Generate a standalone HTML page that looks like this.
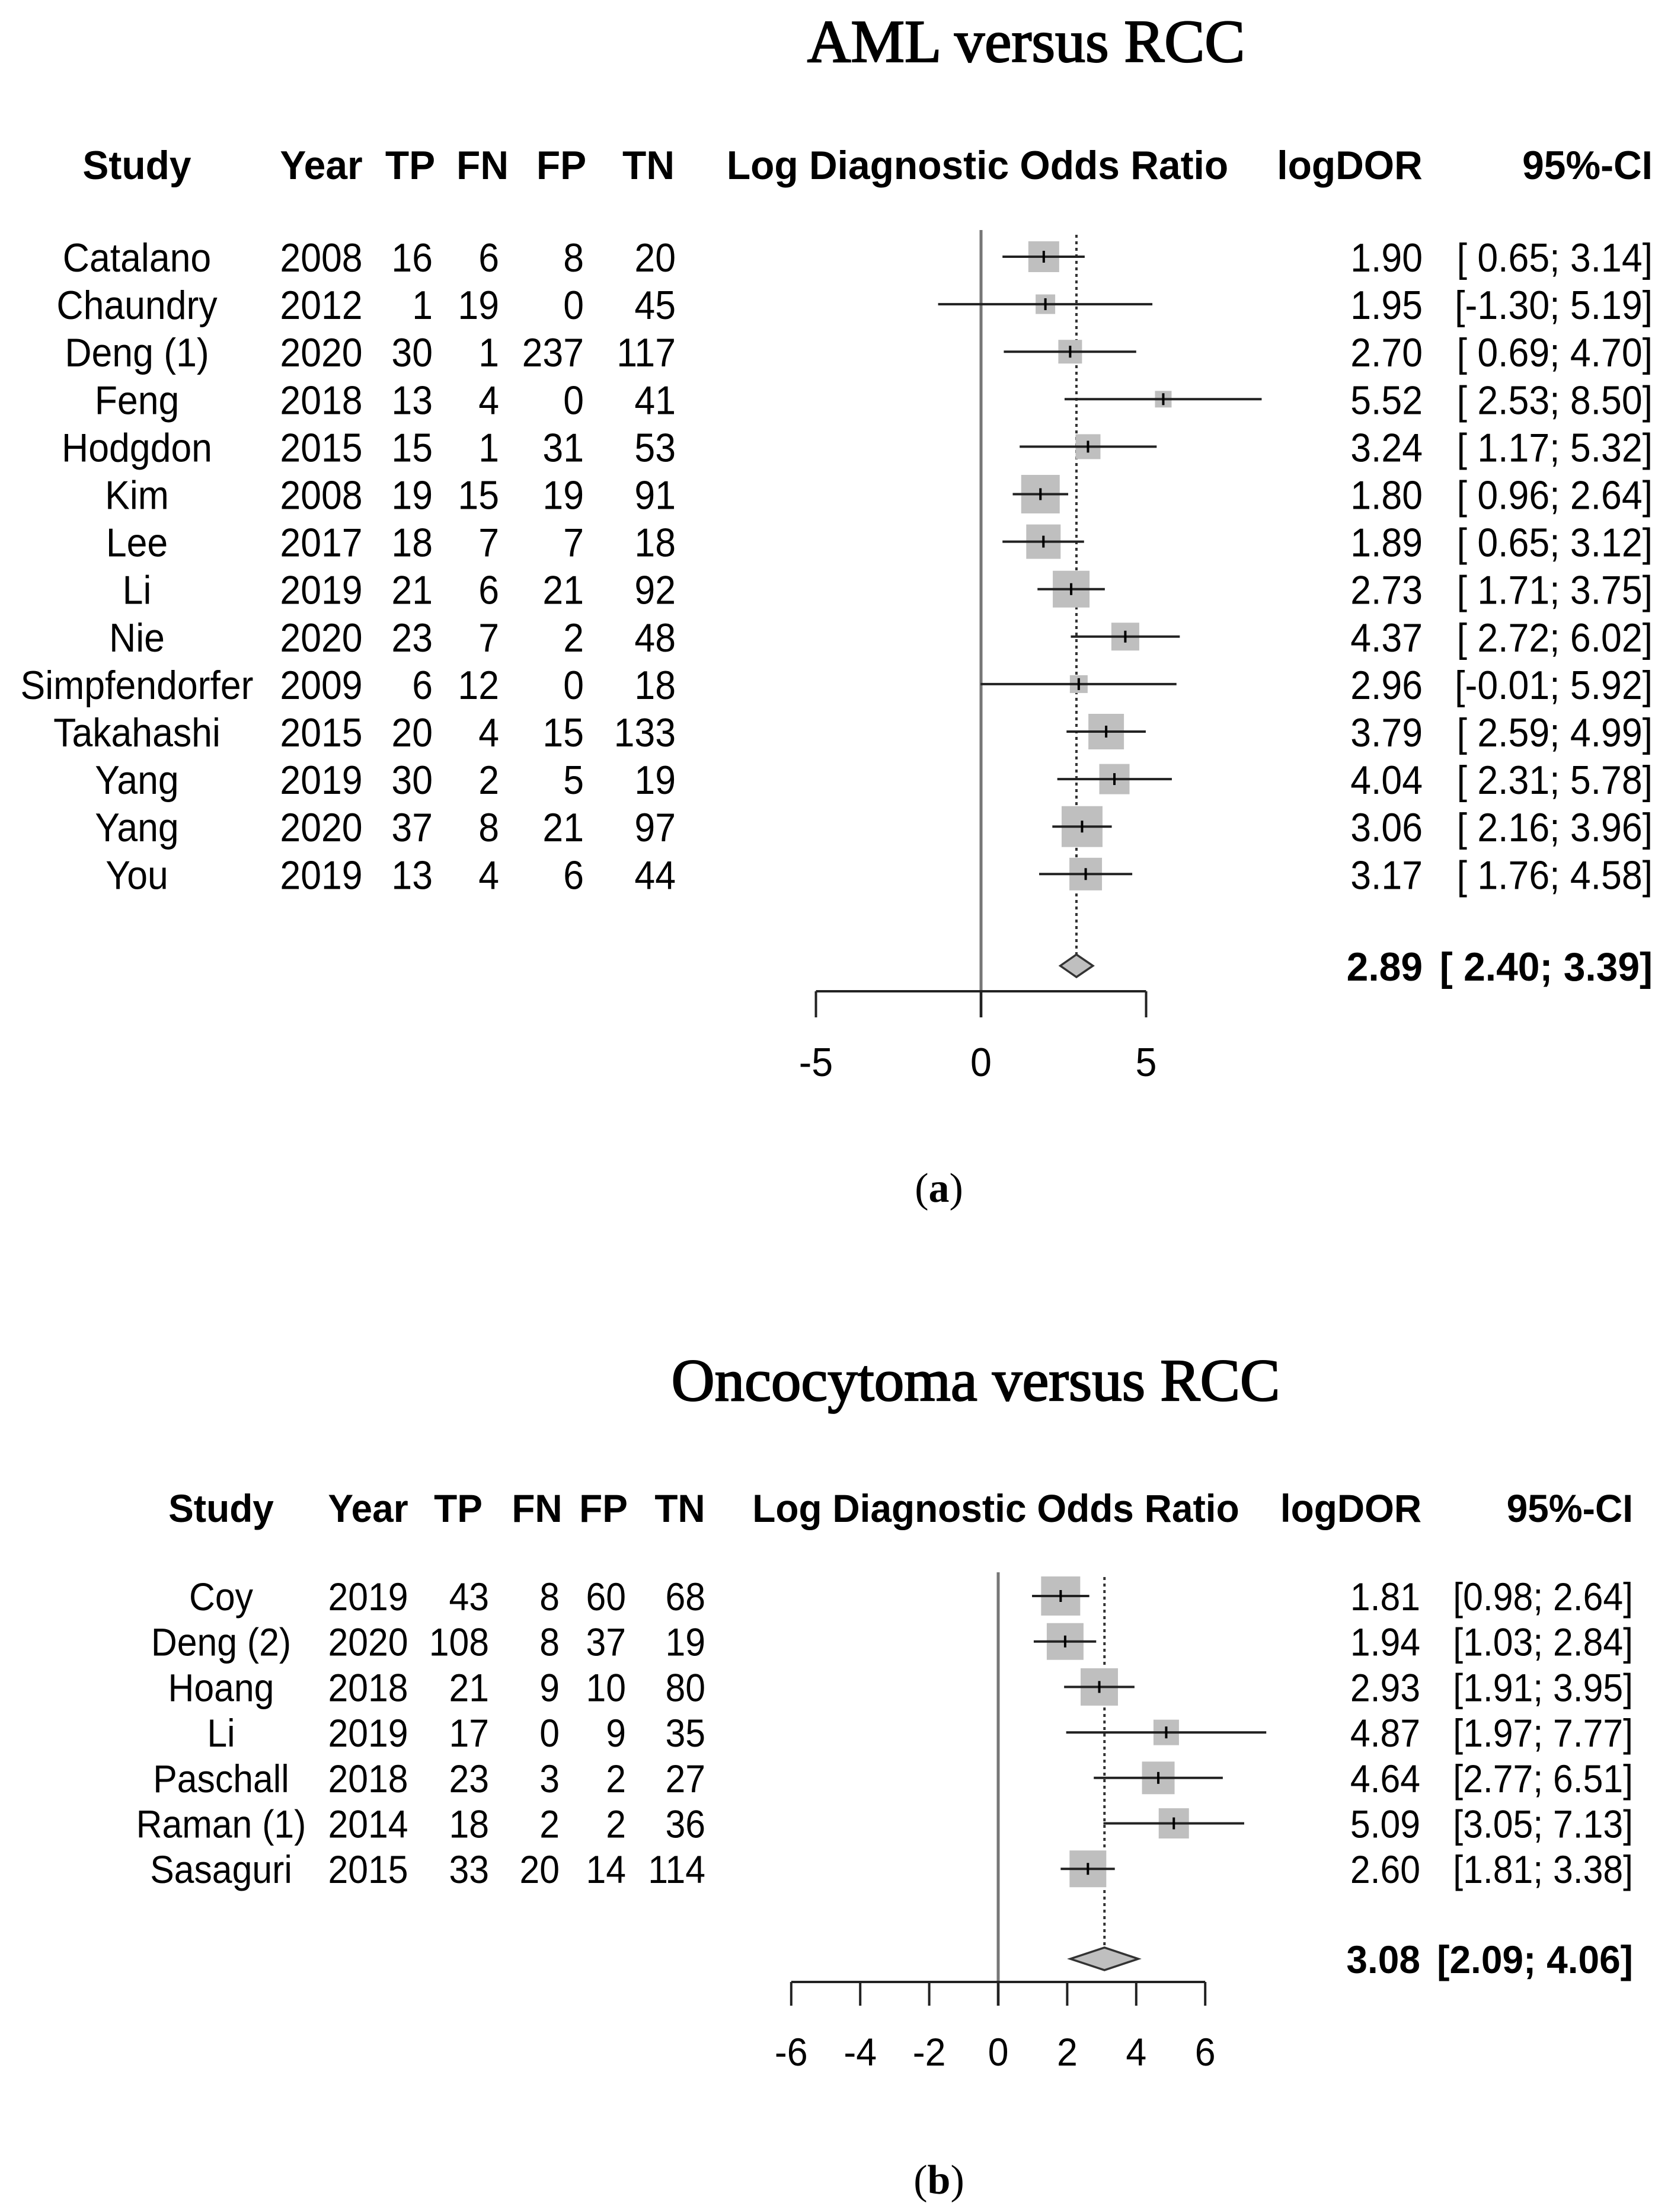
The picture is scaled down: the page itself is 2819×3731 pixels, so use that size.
<!DOCTYPE html>
<html><head><meta charset="utf-8"><style>
html,body{margin:0;padding:0;background:#fff}
svg{display:block}
</style></head><body>
<svg id="chart" xmlns="http://www.w3.org/2000/svg" width="2819" height="3731" viewBox="0 0 2819 3731">
<rect x="0" y="0" width="2819" height="3731" fill="#fff"/>
</svg>
<script>
// ---- Panel A data ----
const studiesA = ["Catalano","Chaundry","Deng (1)","Feng","Hodgdon","Kim","Lee","Li","Nie","Simpfendorfer","Takahashi","Yang","Yang","You"];
const yearsA = [2008,2012,2020,2018,2015,2008,2017,2019,2020,2009,2015,2019,2020,2019];
const tpA = [16,1,30,13,15,19,18,21,23,6,20,30,37,13];
const fnA = [6,19,1,4,1,15,7,6,7,12,4,2,8,4];
const fpA = [8,0,237,0,31,19,7,21,2,0,15,5,21,6];
const tnA = [20,45,117,41,53,91,18,92,48,18,133,19,97,44];
const ldorA = [1.90,1.95,2.70,5.52,3.24,1.80,1.89,2.73,4.37,2.96,3.79,4.04,3.06,3.17];
const lowA = [0.65,-1.30,0.69,2.53,1.17,0.96,0.65,1.71,2.72,-0.01,2.59,2.31,2.16,1.76];
const highA = [3.14,5.19,4.70,8.50,5.32,2.64,3.12,3.75,6.02,5.92,4.99,5.78,3.96,4.58];
const weightA = [5.2,3.3,4.0,2.8,4.2,6.5,5.8,6.2,4.7,3.0,6.0,5.1,6.9,5.5];
const pooledA = [2.89,2.40,3.39];
const ticksA = [-5,0,5];
// ---- Panel B data ----
const studiesB = ["Coy","Deng (2)","Hoang","Li","Paschall","Raman (1)","Sasaguri"];
const yearsB = [2019,2020,2018,2019,2018,2014,2015];
const tpB = [43,108,21,17,23,18,33];
const fnB = [8,8,9,0,3,2,20];
const fpB = [60,37,10,9,2,2,14];
const tnB = [68,19,80,35,27,36,114];
const ldorB = [1.81,1.94,2.93,4.87,4.64,5.09,2.60];
const lowB = [0.98,1.03,1.91,1.97,2.77,3.05,1.81];
const highB = [2.64,2.84,3.95,7.77,6.51,7.13,3.38];
const weightB = [6.6,6.2,6.3,4.3,5.5,5.1,6.2];
const pooledB = [3.08,2.09,4.06];
const ticksB = [-6,-4,-2,0,2,4,6];

const NS="http://www.w3.org/2000/svg";
const svg=document.getElementById('chart');
function el(tag,attrs){const e=document.createElementNS(NS,tag);for(const k in attrs)e.setAttribute(k,attrs[k]);svg.appendChild(e);return e;}
function txt(x,y,s,anchor,size,bold,name,family,sx){
  const e=el('text',{x:0,y:0,transform:`translate(${x},${y}) scale(${sx||0.92},1)`,'text-anchor':anchor,'font-size':size,'font-family':family||'"Liberation Sans", Arial, sans-serif','font-weight':bold?'bold':'normal',fill:'#000'});
  e.textContent=s;
  
  
  return e;
}
function f2(v){return v.toFixed(2);}
function ci(l,h,pad){let a=f2(l),b=f2(h);if(pad){if(l>=0)a=' '+a;if(h>=0)b=' '+b;}return '['+a+'; '+b+']';}

function panel(c){
  const X=v=>c.x0+v*c.unit;
  const fs=c.fs;
  const t=txt(c.titleX,c.titleY,c.title,'middle',c.titleSize,false,c.id+'-title','"Liberation Serif", serif',1);
  t.setAttribute('stroke','#000');t.setAttribute('stroke-width','2.2');
  const hy=c.headY, hs=0.97;
  txt(c.col.study,hy,'Study','middle',fs,true,c.id+'-header-study',null,hs);
  txt(c.col.year,hy,'Year','middle',fs,true,c.id+'-header-year',null,hs);
  txt(c.col.tpH,hy,'TP','middle',fs,true,c.id+'-header-tp',null,hs);
  txt(c.col.fnH,hy,'FN','middle',fs,true,c.id+'-header-fn',null,hs);
  txt(c.col.fpH,hy,'FP','middle',fs,true,c.id+'-header-fp',null,hs);
  txt(c.col.tnH,hy,'TN','middle',fs,true,c.id+'-header-tn',null,hs);
  txt(c.col.ldorH,hy,'Log Diagnostic Odds Ratio','middle',fs,true,c.id+'-header-log-dor',null,0.97);
  txt(c.col.logH,hy,'logDOR','middle',fs,true,c.id+'-header-logdor',null,hs);
  txt(c.col.ci,hy,'95%-CI','end',fs,true,c.id+'-header-ci',null,hs);
  const z=el('line',{x1:X(0),x2:X(0),y1:c.zeroTop,y2:c.axisY+c.tickLen,stroke:'#777','stroke-width':5});
  
  
  const d=el('line',{x1:X(c.pooled[0]),x2:X(c.pooled[0]),y1:c.zeroTop+8,y2:c.diamondY-19,stroke:'#333','stroke-width':4,'stroke-dasharray':'5 6'});
  
  
  c.studies.forEach((s,i)=>{
    const yc=c.row0+i*c.rowH, yb=yc+c.baseOff;
    txt(c.col.study,yb,s,'middle',fs,false,c.id+'-study-'+i);
    txt(c.col.year,yb,String(c.years[i]),'middle',fs,false,c.id+'-year-'+i);
    txt(c.col.tp,yb,String(c.tp[i]),'end',fs,false,c.id+'-tp-'+i);
    txt(c.col.fn,yb,String(c.fn[i]),'end',fs,false,c.id+'-fn-'+i);
    txt(c.col.fp,yb,String(c.fp[i]),'end',fs,false,c.id+'-fp-'+i);
    txt(c.col.tn,yb,String(c.tn[i]),'end',fs,false,c.id+'-tn-'+i);
    txt(c.col.log,yb,f2(c.ldor[i]),'end',fs,false,c.id+'-logdor-'+i);
    txt(c.col.ci,yb,ci(c.low[i],c.high[i],c.pad),'end',fs,false,c.id+'-ci-'+i);
    const side=c.weight[i]*10;
    const b=el('rect',{x:X(c.ldor[i])-side/2,y:yc-side/2,width:side,height:side,fill:'#bfbfbf'});
    
    
    const l=el('line',{x1:X(c.low[i]),x2:X(c.high[i]),y1:yc,y2:yc,stroke:'#222','stroke-width':4});
    
    
    const m=el('line',{x1:X(c.ldor[i]),x2:X(c.ldor[i]),y1:yc-10,y2:yc+10,stroke:'#000','stroke-width':4});
    
    
  });
  const p=c.pooled, dy=c.diamondY;
  const dm=el('polygon',{points:`${X(p[1])},${dy} ${X(p[0])},${dy-19} ${X(p[2])},${dy} ${X(p[0])},${dy+19}`,fill:'#bfbfbf',stroke:'#333','stroke-width':3.5});
  
  
  txt(c.col.log,dy+c.baseOff,f2(p[0]),'end',fs,true,c.id+'-pooled-logdor',null,0.97);
  txt(c.col.ci,dy+c.baseOff,ci(p[1],p[2],c.pad),'end',fs,true,c.id+'-pooled-ci',null,0.97);
  const t0=c.ticks[0], t1=c.ticks[c.ticks.length-1];
  const ax=el('line',{x1:X(t0),x2:X(t1),y1:c.axisY,y2:c.axisY,stroke:'#222','stroke-width':4});
  
  
  c.ticks.forEach((v,i)=>{
    const tk=el('line',{x1:X(v),x2:X(v),y1:c.axisY,y2:c.axisY+c.tickLen,stroke:'#222','stroke-width':4});
    
    
    txt(X(v),c.tickLabelY,String(v),'middle',fs,false,c.id+'-tick-label-'+i,null,0.95);
  });
  const lab=el('text',{x:c.labX,y:c.labY,'text-anchor':'middle','font-size':70,'font-family':'"Liberation Serif", serif',fill:'#000'});
  
  
  lab.innerHTML='(<tspan font-weight="bold">'+c.letter+'</tspan>)';
}

panel({id:'aml',title:'AML versus RCC',titleX:1731,titleY:104,titleSize:102,headY:302,fs:68,
  col:{study:231,year:542,tp:730,fn:842,fp:985,tn:1140,tpH:692,fnH:814,fpH:947,tnH:1094,ldorH:1649,logH:2277,log:2400,ci:2788},
  x0:1655,unit:55.7,row0:433,rowH:80.1,baseOff:25,zeroTop:388,diamondY:1629,axisY:1672,tickLen:44,tickLabelY:1815,
  studies:studiesA,years:yearsA,tp:tpA,fn:fnA,fp:fpA,tn:tnA,ldor:ldorA,low:lowA,high:highA,weight:weightA,pooled:pooledA,ticks:ticksA,pad:true,
  labX:1584,labY:2027,letter:'a'});
panel({id:'onco',title:'Oncocytoma versus RCC',titleX:1646,titleY:2362,titleSize:101,headY:2567,fs:66,
  col:{study:373,year:621,tp:825,fn:944,fp:1056,tn:1190,tpH:773,fnH:906,fpH:1018,tnH:1147,ldorH:1680,logH:2279,log:2396,ci:2755},
  x0:1684,unit:58.2,row0:2692,rowH:76.7,baseOff:24,zeroTop:2652,diamondY:3304,axisY:3343,tickLen:40,tickLabelY:3484,
  studies:studiesB,years:yearsB,tp:tpB,fn:fnB,fp:fpB,tn:tnB,ldor:ldorB,low:lowB,high:highB,weight:weightB,pooled:pooledB,ticks:ticksB,pad:false,
  labX:1584,labY:3700,letter:'b'});
</script>
</body></html>
